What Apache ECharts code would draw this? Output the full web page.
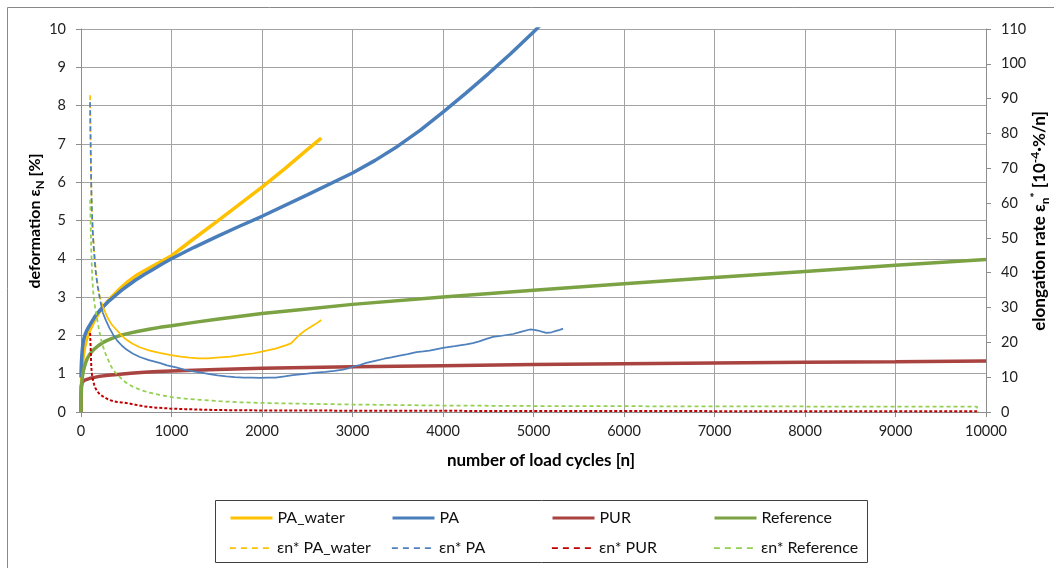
<!DOCTYPE html>
<html><head><meta charset="utf-8">
<script src="https://cdn.jsdelivr.net/npm/echarts@6/dist/echarts.min.js"></script>
<style>html,body{margin:0;padding:0;background:#fff}#c{width:1054px;height:568px}</style>
</head><body><div id="c"></div>
<script>
// ---------- data ----------
const paWaterN = [0,2,5,10,15,22,30,40,50,62,75,87,100,125,150,175,200,250,300,350,400,450,500,600,700,800,900,1000,1250,1500,1750,2000,2250,2500,2655];
const paWaterV = [0,0.45,0.7,0.98,1.2,1.4,1.55,1.69,1.8,1.91,2.0,2.08,2.15,2.28,2.4,2.5,2.6,2.76,2.9,3.03,3.15,3.26,3.37,3.55,3.69,3.82,3.95,4.08,4.53,4.97,5.42,5.87,6.35,6.85,7.15];

const paN = [0,2,5,10,15,22,30,40,50,62,75,87,100,125,150,175,200,250,300,350,400,450,500,600,700,800,900,1000,1250,1500,1750,2000,2500,3000,3250,3500,3750,4000,4250,4500,4750,5000,5200];
const paV = [0.9,1.12,1.3,1.5,1.65,1.79,1.9,1.99,2.05,2.12,2.18,2.23,2.28,2.38,2.48,2.56,2.63,2.76,2.88,2.98,3.08,3.18,3.27,3.44,3.59,3.73,3.87,4.0,4.3,4.58,4.85,5.11,5.67,6.24,6.57,6.94,7.36,7.83,8.32,8.83,9.36,9.92,10.4];

const purN = [0,1,2,3,5,8,15,25,40,60,100,150,200,300,400,550,700,850,1000,1500,2000,3000,4000,5000,6000,7000,8000,9000,10000];
const purV = [0,0.35,0.55,0.64,0.7,0.74,0.78,0.81,0.83,0.855,0.88,0.905,0.93,0.96,0.98,1.01,1.04,1.055,1.07,1.11,1.14,1.18,1.21,1.24,1.26,1.28,1.30,1.31,1.33];

const refN = [0,1,3,6,10,15,20,30,40,55,70,85,100,125,150,190,240,290,350,420,500,620,750,870,1000,1250,1500,2000,2500,3000,4000,5000,6000,7000,8000,9000,10000];
const refV = [0,0.3,0.5,0.67,0.8,0.91,1.0,1.11,1.2,1.31,1.4,1.46,1.52,1.59,1.65,1.73,1.81,1.87,1.93,1.99,2.04,2.1,2.16,2.21,2.25,2.34,2.42,2.57,2.69,2.81,3.0,3.18,3.35,3.51,3.67,3.83,3.98];

const rateWaterN = [100,103,106,109,112,116,121,126,131,140,150,158,168,183,200,220,241,270,300,340,389,440,499,570,650,750,868,980,1100,1200,1300,1400,1500,1650,1800,1900,2010,2150,2268,2320,2350,2380,2416,2480,2550,2610,2655];
const rateWaterV = [91,84,78,72,66.7,61.5,57,54.5,52,48,45,42.3,40,36.8,34,32,30.3,28.5,26.8,25.1,23.7,22.2,20.8,19.6,18.6,17.7,17.0,16.4,15.9,15.6,15.4,15.4,15.6,15.9,16.5,16.8,17.4,18.2,19.2,19.7,20.5,21.3,22.2,23.5,24.6,25.6,26.4];

const ratePaN = [100,103,106,109,112,116,121,126,131,140,150,158,168,185,205,222,241,275,315,355,400,450,499,570,650,750,868,950,1050,1140,1236,1330,1420,1510,1605,1700,1800,1890,1974,2060,2150,2250,2342,2420,2500,2600,2700,2800,2894,2950,3000,3080,3152,3250,3350,3430,3521,3610,3706,3780,3850,3920,4000,4130,4258,4330,4400,4480,4553,4650,4774,4870,4959,5010,5050,5100,5143,5200,5250,5290,5327];
const ratePaV = [89,83,78,72,67,62,57,54,51,47.5,44,41.5,39,36,33,30.8,28.5,26.3,24.1,22.2,20.5,19.1,18.0,16.8,15.8,14.9,14.1,13.4,12.8,12.2,11.7,11.3,10.9,10.5,10.2,10.0,9.9,9.85,9.8,9.85,9.9,10.2,10.6,10.8,11.0,11.3,11.5,11.8,12.2,12.5,13.0,13.5,14.1,14.7,15.3,15.7,16.2,16.6,17.2,17.4,17.6,18.0,18.4,18.9,19.4,19.8,20.3,21.0,21.6,21.9,22.4,23.1,23.7,23.6,23.4,23.0,22.7,22.9,23.3,23.6,23.95];

const ratePurN = [101,103,106,109,112,116,120,125,131,145,160,180,200,220,241,280,320,360,400,450,499,600,700,830,978,1150,1300,1531,2000,3000,4000,5000,6000,7000,8000,9000,9900];
const ratePurV = [22.7,21,19,16.5,14,12.3,11,10,9.3,7.9,6.8,6.0,5.3,4.8,4.5,3.9,3.4,3.1,2.9,2.75,2.6,2.1,1.6,1.25,1.0,0.82,0.7,0.55,0.45,0.38,0.33,0.3,0.27,0.25,0.23,0.22,0.2];

const rateRefN = [101,104,108,112,118,125,135,145,156,168,183,200,220,241,270,300,325,352,390,430,465,499,570,650,750,868,1000,1150,1310,1531,1750,2000,2500,3000,3500,4000,5000,6000,7000,8000,9000,9900,9910];
const rateRefV = [61,57,52,48,43,38,34.5,32,30,28.5,26,23.5,21.1,19,16.8,15,13.5,12.2,11,10,9.1,8.4,7.3,6.4,5.6,4.9,4.3,3.85,3.5,3.1,2.8,2.6,2.35,2.15,2.0,1.86,1.72,1.66,1.62,1.58,1.55,1.52,0];

const legendRow1 = ['PA_water','PA','PUR','Reference'];
const legendRow2 = ['εn* PA_water','εn* PA','εn* PUR','εn* Reference'];

const xRange = [0, 10000, 1000];
const leftRange = [0, 10, 1];
const rightRange = [0, 110, 10];

// ---------- helpers ----------
const FONT = 'Lato, "Liberation Sans", sans-serif';
function pts(ns, vs, lo, hi) {
  const out = [];
  ns.forEach((n, i) => { if ((lo == null || n >= lo) && (hi == null || n <= hi)) out.push([n, vs[i]]); });
  return out;
}
function lineSeries(name, data, color, width, type, yIdx) {
  return {
    name, type: 'line', data, yAxisIndex: yIdx, symbol: 'none', showSymbol: false,
    smooth: false, animation: false,
    lineStyle: { color, width, type }, itemStyle: { color }
  };
}
const SPLIT = 241;
const series = [
  lineSeries('PA_water', pts(paWaterN, paWaterV), '#FFC000', 3.5, 'solid', 0),
  lineSeries('PA', pts(paN, paV), '#4A7EBB', 3.5, 'solid', 0),
  lineSeries('PUR', pts(purN, purV), '#A84340', 3.5, 'solid', 0),
  lineSeries('Reference', pts(refN, refV), '#7BA243', 3.5, 'solid', 0),
  lineSeries('εn* PA_water', pts(rateWaterN, rateWaterV, null, SPLIT), '#FFC000', 1.75, [5, 3], 1),
  lineSeries('εn* PA_water (cont)', pts(rateWaterN, rateWaterV, SPLIT, null), '#FFC000', 1.75, 'solid', 1),
  lineSeries('εn* PA', pts(ratePaN, ratePaV, null, SPLIT), '#4F81BD', 1.75, [5, 3], 1),
  lineSeries('εn* PA (cont)', pts(ratePaN, ratePaV, SPLIT, null), '#4F81BD', 1.75, 'solid', 1),
  lineSeries('εn* PUR', pts(ratePurN, ratePurV), '#C00000', 2, [3, 2], 1),
  lineSeries('εn* Reference', pts(rateRefN, rateRefV), '#92D050', 1.75, [4, 3], 1)
];

const legendCols = [229, 391, 551, 713];
const legends = [];
[legendRow1, legendRow2].forEach((row, r) => {
  row.forEach((name, c) => {
    legends.push({
      data: [name], left: legendCols[c], top: r === 0 ? 510 : 540, padding: 0,
      orient: 'horizontal', itemWidth: 42, itemHeight: 14, selectedMode: false,
      itemStyle: { opacity: 0, borderWidth: 0 },
      lineStyle: r === 0 ? { width: 3 } : { width: 1.75, type: [6, 5] },
      textStyle: { fontFamily: FONT, fontSize: 16, color: '#111' }
    });
  });
});

const axisGray = '#8C8C8C';
const gridGray = '#A3A3A3';
const labelStyle = { fontFamily: FONT, fontSize: 14.5, color: '#222' };
const TITLE_SIZE = 17;

const chart = echarts.init(document.getElementById('c'), null, { renderer: 'canvas' });
chart.setOption({
  animation: false,
  backgroundColor: '#fff',
  grid: { left: 81, right: 68, top: 29, bottom: 156, containLabel: false },
  xAxis: {
    type: 'value', min: xRange[0], max: xRange[1], interval: xRange[2],
    axisLine: { show: true, lineStyle: { color: axisGray } },
    axisTick: { show: true, length: 5, lineStyle: { color: axisGray } },
    axisLabel: Object.assign({ margin: 12, formatter: v => String(v) }, labelStyle),
    splitLine: { show: true, lineStyle: { color: gridGray } }
  },
  yAxis: [
    {
      type: 'value', position: 'left', min: leftRange[0], max: leftRange[1], interval: leftRange[2],
      axisLine: { show: true, lineStyle: { color: axisGray } },
      axisTick: { show: true, length: 5, lineStyle: { color: axisGray } },
      axisLabel: Object.assign({ margin: 15, formatter: v => String(v) }, labelStyle),
      splitLine: { show: true, lineStyle: { color: gridGray } }
    },
    {
      type: 'value', position: 'right', min: rightRange[0], max: rightRange[1], interval: rightRange[2],
      axisLine: { show: true, lineStyle: { color: axisGray } },
      axisTick: { show: true, length: 5, lineStyle: { color: axisGray } },
      axisLabel: Object.assign({ margin: 15, formatter: v => String(v) }, labelStyle),
      splitLine: { show: false }
    }
  ],
  legend: legends,
  series: series,
  graphic: [
    { type: 'rect', z: -10, shape: { x: 7.5, y: 7.5, width: 1200, height: 700 }, style: { fill: null, stroke: '#898989', lineWidth: 1 } },
    { type: 'rect', shape: { x: 215.5, y: 500.5, width: 652, height: 62 }, style: { fill: null, stroke: '#404040', lineWidth: 1 } },
    {
      type: 'text', x: 541, y: 461,
      style: { text: 'number of load cycles [n]', font: 'bold ' + TITLE_SIZE + 'px ' + FONT, fill: '#000', align: 'center', verticalAlign: 'middle' }
    },
    {
      type: 'text', x: 35, y: 221, rotation: Math.PI / 2,
      style: {
        text: '{b|deformation ε}{s|N}{b| [%]}', align: 'center', verticalAlign: 'middle',
        rich: {
          b: { fontFamily: FONT, fontWeight: 'bold', fontSize: 16, fill: '#000', lineHeight: 22, verticalAlign: 'middle' },
          s: { fontFamily: FONT, fontWeight: 'bold', fontSize: 11.5, fill: '#000', lineHeight: 22, verticalAlign: 'bottom' }
        }
      }
    },
    {
      type: 'text', x: 1040, y: 221, rotation: Math.PI / 2,
      style: {
        text: '{b|elongation rate ε}{s|n}{p|*}{b| [10}{p|-4}{b|·%/n]}', align: 'center', verticalAlign: 'middle',
        rich: {
          b: { fontFamily: FONT, fontWeight: 'bold', fontSize: TITLE_SIZE, fill: '#000', lineHeight: 22, verticalAlign: 'middle' },
          s: { fontFamily: FONT, fontWeight: 'bold', fontSize: 12, fill: '#000', lineHeight: 22, verticalAlign: 'bottom' },
          p: { fontFamily: FONT, fontWeight: 'bold', fontSize: 12, fill: '#000', lineHeight: 22, verticalAlign: 'top' }
        }
      }
    }
  ]
});
</script>
</body></html>
